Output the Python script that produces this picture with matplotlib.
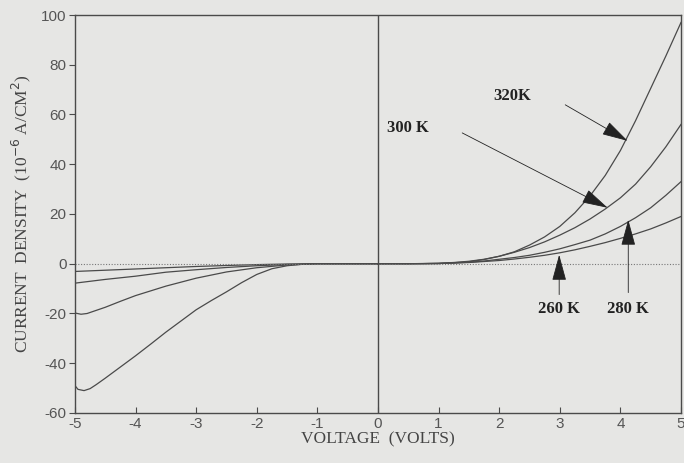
import numpy as np
import matplotlib
matplotlib.use("Agg")
import matplotlib.pyplot as plt

plt.rcParams["axes.unicode_minus"] = False

# ---------- dati ----------
# ramo inverso (tensione negativa)
v_neg_320 = [-5.0, -4.95, -4.85, -4.75, -4.65, -4.5, -4.25, -4.0, -3.75, -3.5, -3.25,
             -3.0, -2.75, -2.5, -2.25, -2.0, -1.75, -1.5, -1.25, -1.0, -0.5, 0.0]
j_neg_320 = [-49.0, -50.5, -51.0, -50.2, -48.6, -46.0, -41.5, -37.0, -32.3, -27.5, -23.0,
             -18.5, -14.8, -11.3, -7.6, -4.3, -2.0, -0.8, -0.2, 0.0, 0.0, 0.0]

v_neg_300 = [-5.0, -4.9, -4.8, -4.5, -4.25, -4.0, -3.5, -3.0, -2.5, -2.0, -1.5, -1.0, -0.5, 0.0]
j_neg_300 = [-19.8, -20.3, -20.0, -17.5, -15.1, -12.8, -9.0, -5.8, -3.3, -1.6, -0.5, 0.0, 0.0, 0.0]

v_neg_280 = [-5.0, -4.5, -4.0, -3.5, -3.0, -2.5, -2.0, -1.5, -1.0, -0.5, 0.0]
j_neg_280 = [-7.8, -6.3, -5.0, -3.4, -2.4, -1.5, -0.8, -0.3, 0.0, 0.0, 0.0]

v_neg_260 = [-5.0, -4.5, -4.0, -3.5, -3.0, -2.5, -2.0, -1.5, -1.0, -0.5, 0.0]
j_neg_260 = [-3.1, -2.6, -2.1, -1.6, -1.1, -0.7, -0.35, -0.1, 0.0, 0.0, 0.0]

# ramo diretto (tensione positiva)
v_pos = [0.0, 0.5, 1.0, 1.25, 1.5, 1.75, 2.0, 2.25, 2.5, 2.75, 3.0,
         3.25, 3.5, 3.75, 4.0, 4.25, 4.5, 4.75, 5.0]
j_pos_320 = [0.0, 0.0, 0.2, 0.5, 1.0, 1.8, 3.0, 4.8, 7.5, 10.8, 15.0,
             20.5, 27.3, 35.5, 45.5, 57.5, 70.5, 83.5, 97.0]
j_pos_300 = [0.0, 0.0, 0.1, 0.4, 0.8, 1.7, 3.0, 4.6, 6.5, 8.8, 11.5,
             14.5, 18.0, 22.0, 26.5, 32.0, 39.0, 47.0, 56.0]
j_pos_280 = [0.0, 0.0, 0.1, 0.3, 0.6, 1.1, 1.8, 2.5, 3.4, 4.6, 6.0,
             7.7, 9.5, 12.0, 15.0, 18.5, 22.5, 27.5, 33.0]
j_pos_260 = [0.0, 0.0, 0.1, 0.3, 0.5, 0.9, 1.3, 1.9, 2.6, 3.4, 4.4,
             5.6, 7.0, 8.5, 10.2, 12.0, 14.0, 16.4, 19.0]

x_ticks = [-5, -4, -3, -2, -1, 0, 1, 2, 3, 4, 5]
y_ticks = [-60, -40, -20, 0, 20, 40, 60, 80, 100]

# etichette: (testo, posizione testo, coda freccia, punta freccia)
labels = [
    ("320K", (2.21, 67.5), (3.09, 63.9), (4.12, 49.4)),
    ("300 K", (0.50, 54.6), (1.39, 52.6), (3.79, 22.5)),
    ("260 K", (2.99, -18.2), (2.99, -12.4), (2.99, 3.6)),
    ("280 K", (4.13, -18.2), (4.13, -11.6), (4.13, 17.7)),
]

BG = "#e6e6e4"
LINE = "#4a4a4a"

fig = plt.figure(figsize=(6.84, 4.63), dpi=100, facecolor=BG)
ax = fig.add_axes([0.1096, 0.108, 0.886, 0.8596])
ax.set_facecolor(BG)

# curve
curves = [
    (v_neg_320, j_neg_320), (v_neg_300, j_neg_300),
    (v_neg_280, j_neg_280), (v_neg_260, j_neg_260),
    (v_pos, j_pos_320), (v_pos, j_pos_300),
    (v_pos, j_pos_280), (v_pos, j_pos_260),
]
for v, j in curves:
    ax.plot(v, j, color=LINE, lw=0.9)

# asse zero tratteggiato e asse verticale
ax.axhline(0, color="#777777", lw=0.8, ls=(0, (1, 1.5)))
ax.axvline(0, color=LINE, lw=1.0)

# etichette con frecce
for txt, pos, tail, tip in labels:
    ax.text(pos[0], pos[1], txt, ha="center", va="center", fontsize=12,
            fontweight="bold", family="Liberation Serif", color="#222222")
    ax.annotate("", xy=tip, xytext=tail,
                arrowprops=dict(arrowstyle="-|>,head_length=1.1,head_width=0.3",
                                color="#222222", lw=0.6, shrinkA=0, shrinkB=0,
                                mutation_scale=15))

ax.set_xlim(-5, 5)
ax.set_ylim(-60, 100)
ax.set_xticks(x_ticks)
ax.set_yticks(y_ticks)
ax.tick_params(axis="x", direction="in", length=4, color=LINE, labelsize=11,
               labelcolor="#555555", pad=3)
ax.tick_params(axis="y", direction="out", length=4, color=LINE, labelsize=11,
               labelcolor="#555555", pad=2)
for lab in ax.get_xticklabels() + ax.get_yticklabels():
    lab.set_family("Liberation Sans")
for s in ax.spines.values():
    s.set_color(LINE)
    s.set_linewidth(1.0)

ax.set_xlabel("VOLTAGE  (VOLTS)", family="Liberation Serif", fontsize=12.5,
              color="#444444", labelpad=0)
ax.set_ylabel("CURRENT  DENSITY  (10$^{-6}$ A/CM$^{2}$)", family="Liberation Serif",
              fontsize=12.5, color="#444444", labelpad=6)

fig.savefig("out.png", dpi=100, facecolor=BG)
